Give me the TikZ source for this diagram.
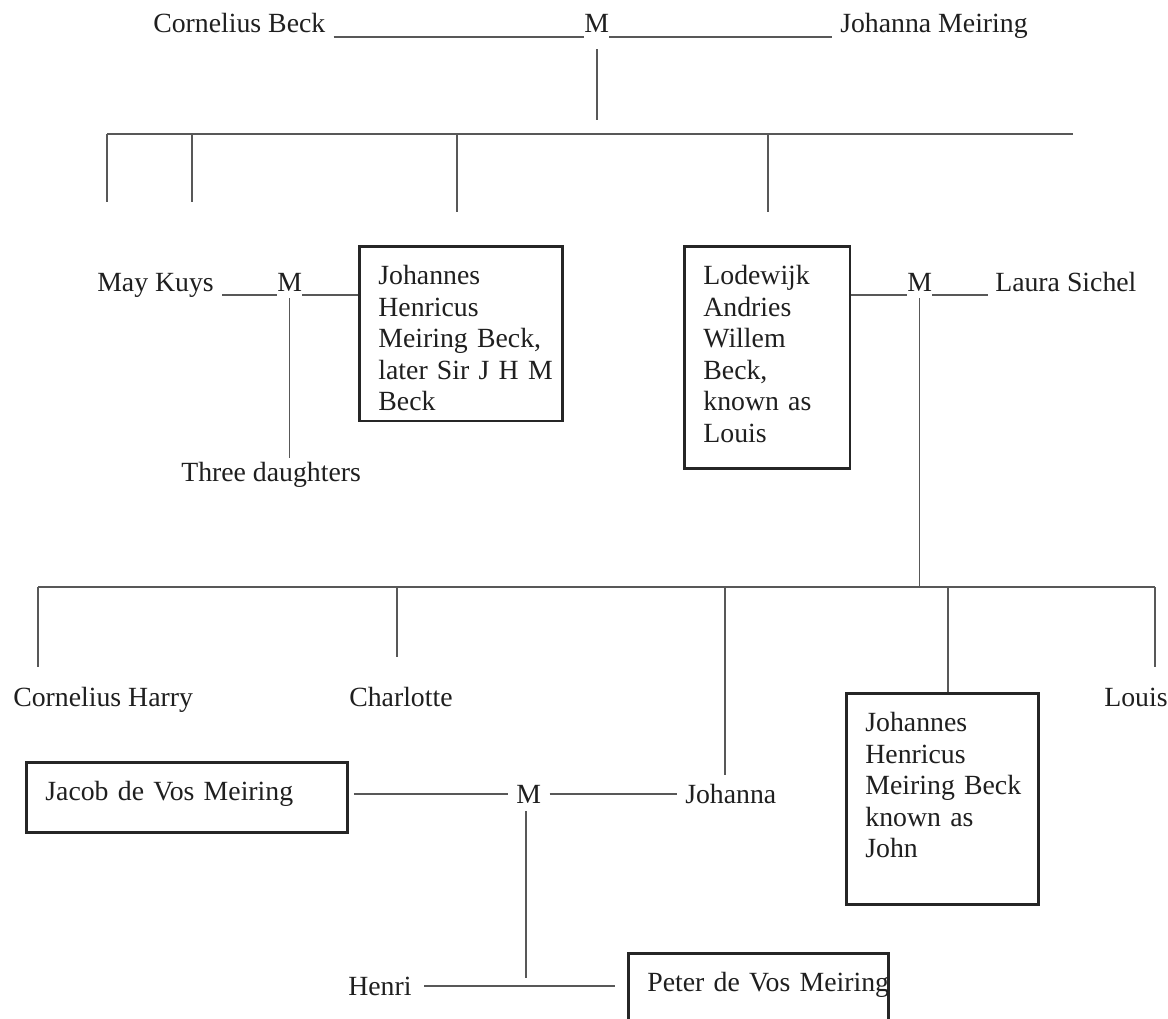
\documentclass[tikz,border=0pt]{standalone}
\usepackage{fontspec}
\setmainfont{Liberation Serif}
\definecolor{inkgray}{RGB}{88,88,88}
\tikzstyle{member} = [draw=black!85, line width=2pt, anchor=north west, align=left, inner xsep=13.5pt, inner ysep=13.5pt, text height=13.5pt]
\tikzstyle{kin} = [anchor=base west, inner xsep=0pt, inner ysep=2.8pt, text depth=0pt]
\tikzstyle{line} = [draw=inkgray, line width=1.1pt]

\begin{document}
\begin{tikzpicture}[x=0.025cm, y=-0.025cm, font=\fontsize{19.75pt}{22.5pt}\selectfont, text=black!88]
    \useasboundingbox[fill=white] (0,0) rectangle (1168,1018);

    % Place nodes
    \node [kin] (cbeck) at (153,33) {Cornelius Beck};
    \node [kin] (mtop) at (584,33) {M};
    \node [kin] (jmeiring) at (840,33) {Johanna Meiring};

    \node [kin] (maykuys) at (97,291) {May Kuys};
    \node [kin] (mjhm) at (277,291) {M};
    \node [member, text width=117.6pt, text depth=83.6pt] (jhmb) at (358,245) {Johannes\\ Henricus\\ \mbox{Meiring Beck,}\\ \mbox{later Sir J H M}\\ Beck};
    \node [kin] (three) at (181,481) {Three daughters};

    \node [member, text width=90.7pt, text depth=117.6pt] (lawb) at (683,245) {Lodewijk\\ Andries\\ Willem\\ Beck,\\ \mbox{known as}\\ Louis};
    \node [kin] (mlaw) at (907,291) {M};
    \node [kin] (laura) at (995,291) {Laura Sichel};

    \node [kin] (charry) at (13,706) {Cornelius Harry};
    \node [kin] (charlotte) at (349,706) {Charlotte};
    \node [kin] (louis) at (1104,706) {Louis};
    \node [member, text width=109.8pt, text depth=109.8pt] (jhmj) at (845,692) {Johannes\\ Henricus\\ \mbox{Meiring Beck}\\ \mbox{known as}\\ John};

    \node [member, text width=201.3pt, text depth=9.2pt] (jdvm) at (25,761) {\mbox{Jacob de Vos Meiring}};
    \node [kin] (mjac) at (516,803) {M};
    \node [kin] (johanna) at (685,803) {Johanna};
    \node [kin] (henri) at (348,995) {Henri};
    \node [member, text width=158pt, text depth=45pt] (pdvm) at (627,952) {\mbox{Peter de Vos Meiring}};

    % Helper coordinates for the sibling bars
    \coordinate (topdrop) at (597,120);
    \coordinate (tbarL) at (107,134);
    \coordinate (tbarR) at (1073,134);
    \foreach \x/\y [count=\i] in {107/202, 192/202, 457/212, 768/212}
      \coordinate (tkid\i) at (\x,\y);
    \coordinate (lbarL) at (38,587);
    \coordinate (lbarR) at (1155,587);
    \foreach \x/\y [count=\i] in {38/667, 397/657, 725/775, 948/692, 1155/667}
      \coordinate (lkid\i) at (\x,\y);
    \coordinate (hdrop) at (526,978);

    % Draw edges
    \path [line] ([xshift=5.7pt]cbeck.south east) -- (mtop.south west);
    \path [line] (mtop.south east) -- ([xshift=-5.7pt]jmeiring.south west);
    \path [line] ([yshift=-8.5pt]topdrop |- mtop.south) -- (topdrop);
    \path [line] (tbarL) -- (tbarR);
    \foreach \i in {1,...,4}
      \path [line] (tkid\i |- tbarL) -- (tkid\i);

    \path [line] ([xshift=5.7pt]maykuys.south east) -- (mjhm.south west);
    \path [line] (mjhm.south east) -- (mjhm.south east -| jhmb.west);
    \path [line] ([yshift=-2pt]mjhm.south) -- (mjhm.south |- three.north);
    \path [line] (lawb.east |- mlaw.south west) -- (mlaw.south west);
    \path [line] (mlaw.south east) -- ([xshift=-5pt]laura.south west);
    \path [line] ([yshift=-2pt]mlaw.south) -- (mlaw.south |- lbarL);

    \path [line] (lbarL) -- (lbarR);
    \foreach \i in {1,...,5}
      \path [line] (lkid\i |- lbarL) -- (lkid\i);

    \path [line] ([xshift=3.5pt]jdvm.east |- mjac.west) -- ([xshift=-5.7pt]mjac.west);
    \path [line] ([xshift=6pt]mjac.east) -- ([xshift=-5.7pt]mjac.east -| johanna.west);
    \path [line] ([yshift=-3pt]hdrop |- mjac.south) -- (hdrop);
    \path [line] ([xshift=9pt]henri.east) -- ([xshift=-8.5pt]henri.east -| pdvm.west);
\end{tikzpicture}
\end{document}
